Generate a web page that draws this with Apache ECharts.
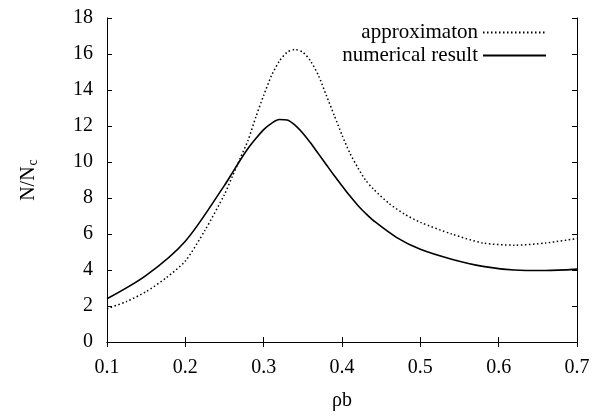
<!DOCTYPE html>
<html>
<head>
<meta charset="utf-8">
<script src="https://cdn.jsdelivr.net/npm/echarts@6/dist/echarts.min.js"></script>
<style>
html,body{margin:0;padding:0;background:#fff;}
#chart{width:602px;height:416px;}
</style>
</head>
<body>
<div id="chart"></div>
<script>
// Data
const seriesNames = ['approximaton', 'numerical result'];
const approxX = [0.10, 0.125, 0.15, 0.175, 0.20, 0.225, 0.25, 0.26, 0.27, 0.28, 0.29, 0.30, 0.31, 0.32, 0.33, 0.34, 0.35, 0.36, 0.37, 0.38, 0.39, 0.40, 0.41, 0.42, 0.43, 0.44, 0.46, 0.48, 0.50, 0.54, 0.58, 0.62, 0.66, 0.70];
const approxY = [1.85, 2.25, 2.8, 3.55, 4.5, 6.2, 8.2, 9.2, 10.2, 11.2, 12.5, 13.7, 14.8, 15.6, 16.1, 16.25, 16.1, 15.6, 14.8, 13.7, 12.6, 11.5, 10.5, 9.7, 9.0, 8.5, 7.7, 7.1, 6.65, 6.0, 5.5, 5.38, 5.5, 5.75];
const numX = [0.10, 0.15, 0.20, 0.25, 0.26, 0.27, 0.28, 0.29, 0.30, 0.31, 0.32, 0.33, 0.34, 0.35, 0.36, 0.37, 0.38, 0.39, 0.40, 0.41, 0.42, 0.43, 0.44, 0.47, 0.50, 0.54, 0.58, 0.62, 0.66, 0.70];
const numY = [2.4, 3.7, 5.6, 8.7, 9.4, 10.1, 10.75, 11.3, 11.8, 12.15, 12.36, 12.33, 12.05, 11.6, 11.05, 10.45, 9.85, 9.25, 8.68, 8.12, 7.6, 7.15, 6.75, 5.8, 5.15, 4.6, 4.2, 4.0, 3.97, 4.05];
const xMin = 0.1, xMax = 0.7, xStep = 0.1;
const yMin = 0, yMax = 18, yStep = 2;

const FONT = 'Liberation Serif';
const chart = echarts.init(document.getElementById('chart'), null, {renderer: 'canvas'});
const pair = (xs, ys) => xs.map((x, i) => [x, ys[i]]);

const axisCommon = {
  axisLine: {show: true, lineStyle: {color: '#000', width: 1}},
  axisTick: {show: true, inside: true, length: 5, lineStyle: {color: '#000', width: 1}},
  splitLine: {show: false}
};

chart.setOption({
  backgroundColor: '#fff',
  animation: false,
  grid: {left: 107, right: 25, top: 18, bottom: 68, containLabel: false},
  legend: {
    orient: 'vertical',
    right: 50,
    top: 17,
    align: 'right',
    itemWidth: 63,
    itemHeight: 12,
    itemGap: 2,
    itemStyle: {opacity: 0, borderWidth: 0},
    textStyle: {fontFamily: FONT, fontSize: 21, color: '#000', lineHeight: 20},
    data: seriesNames
  },
  xAxis: [
    Object.assign({
      type: 'value', position: 'bottom', min: xMin, max: xMax, interval: xStep,
      axisLabel: {fontFamily: FONT, fontSize: 20, color: '#000', margin: 16,
        formatter: v => v.toFixed(1)},
      name: 'ρb', nameLocation: 'middle', nameGap: 49,
      nameTextStyle: {fontFamily: FONT, fontSize: 20, color: '#000'}
    }, axisCommon),
    Object.assign({
      type: 'value', position: 'top', min: xMin, max: xMax, interval: xStep,
      axisLabel: {show: false}
    }, axisCommon)
  ],
  yAxis: [
    Object.assign({
      type: 'value', position: 'left', min: yMin, max: yMax, interval: yStep,
      axisLabel: {fontFamily: FONT, fontSize: 20, color: '#000', margin: 14},
      name: '{n|N/N}{s|c}', nameLocation: 'middle', nameGap: 67, nameRotate: 90,
      nameTextStyle: {fontFamily: FONT, fontSize: 20, color: '#000',
        rich: {
          n: {fontFamily: FONT, fontSize: 20, color: '#000'},
          s: {fontFamily: FONT, fontSize: 14, color: '#000', padding: [9, 0, 0, 1]}
        }}
    }, axisCommon),
    Object.assign({
      type: 'value', position: 'right', min: yMin, max: yMax, interval: yStep,
      axisLabel: {show: false}
    }, axisCommon)
  ],
  series: [
    {
      name: seriesNames[0], type: 'line', xAxisIndex: 0, yAxisIndex: 0,
      data: pair(approxX, approxY), symbol: 'none', smooth: 0.25,
      lineStyle: {color: '#000', width: 1.5, type: [1.5, 2.5]},
      itemStyle: {color: '#000'}
    },
    {
      name: seriesNames[1], type: 'line', xAxisIndex: 0, yAxisIndex: 0,
      data: pair(numX, numY), symbol: 'none', smooth: 0.3,
      lineStyle: {color: '#000', width: 1.6, type: 'solid'},
      itemStyle: {color: '#000'}
    }
  ]
});
</script>
</body>
</html>
